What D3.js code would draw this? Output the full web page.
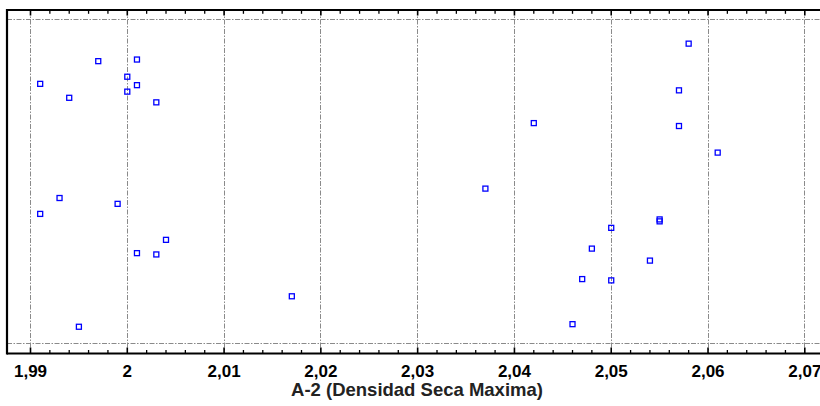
<!DOCTYPE html>
<html>
<head>
<meta charset="utf-8">
<script src="https://cdn.jsdelivr.net/npm/d3@7"></script>
<style>
  html, body { margin: 0; padding: 0; background: #fff; }
  svg { display: block; }
</style>
</head>
<body>
<svg id="chart" width="820" height="406"></svg>
<script>
// Densidad seca maxima (A-2) observations
const densidad = [
  1.997, 2.001, 1.991, 2.000, 2.001, 2.000, 1.994, 2.003,
  1.993, 1.991, 1.999, 2.004, 2.001, 2.003, 1.995, 2.017,
  2.037, 2.042, 2.058, 2.057, 2.057, 2.061, 2.055, 2.055,
  2.050, 2.048, 2.054, 2.047, 2.050, 2.046
];
// vertical jitter (0-100) for each observation
const jitter = [
  87.0, 87.5, 80.0, 82.2, 79.6, 77.6, 75.7, 74.3,
  44.8, 39.9, 43.0, 31.9, 27.8, 27.4, 5.1, 14.5,
  47.7, 67.9, 92.4, 78.0, 67.0, 58.8, 37.6, 38.2,
  35.6, 29.2, 25.5, 19.8, 19.4, 5.9
];
const majorTicks = [1.99, 2.00, 2.01, 2.02, 2.03, 2.04, 2.05, 2.06, 2.07];
const tickLabels = ["1,99", "2", "2,01", "2,02", "2,03", "2,04", "2,05", "2,06", "2,07"];

const svg = d3.select("#chart");
const frame = { left: 7, right: 830, top: 10, bottom: 353.5 };

const x = d3.scaleLinear().domain([1.99, 2.07]).range([30, 804.3]);
const y = d3.scaleLinear().domain([0, 100]).range([343.3, 19]);

const minorTicks = d3.range(0, 41).map(i => +(1.99 + i * 0.002).toFixed(3))
  .filter(v => !majorTicks.some(m => Math.abs(m - v) < 1e-9));

// grid
const grid = svg.append("g")
  .attr("stroke", "#8a8a8a")
  .attr("stroke-width", 1)
  .attr("stroke-dasharray", "5,1.5,1.5,1.5")
  .attr("fill", "none");
grid.selectAll("line.v").data(majorTicks).join("line")
  .attr("class", "v")
  .attr("x1", d => Math.round(x(d)) + 0.5).attr("x2", d => Math.round(x(d)) + 0.5)
  .attr("y1", frame.top).attr("y2", frame.bottom);
grid.selectAll("line.h").data([0, 100]).join("line")
  .attr("class", "h")
  .attr("x1", frame.left).attr("x2", frame.right)
  .attr("y1", d => Math.round(y(d)) + 0.5).attr("y2", d => Math.round(y(d)) + 0.5);

// bottom axis: inward ticks
const bottomMajor = d3.axisBottom(x).tickValues(majorTicks).tickSizeInner(-6).tickSizeOuter(0)
  .tickFormat((d, i) => tickLabels[i]);
const gb = svg.append("g").attr("transform", `translate(0,${frame.bottom})`).call(bottomMajor);
gb.select(".domain").remove();
gb.selectAll(".tick line").attr("stroke", "#000").attr("stroke-width", 1.6);
gb.selectAll(".tick text")
  .attr("y", 23)
  .attr("dy", 0)
  .attr("font-family", "Liberation Sans, Arial, sans-serif")
  .attr("font-weight", "bold")
  .attr("font-size", 17)
  .attr("fill", "#000");
const gbm = svg.append("g").attr("transform", `translate(0,${frame.bottom})`)
  .call(d3.axisBottom(x).tickValues(minorTicks).tickSizeInner(-3.5).tickSizeOuter(0).tickFormat(""));
gbm.select(".domain").remove();
gbm.selectAll(".tick line").attr("stroke", "#000").attr("stroke-width", 1.3);

// top axis: inward ticks, no labels
const gt = svg.append("g").attr("transform", `translate(0,${frame.top})`)
  .call(d3.axisTop(x).tickValues(majorTicks).tickSizeInner(-5.5).tickSizeOuter(0).tickFormat(""));
gt.select(".domain").remove();
gt.selectAll(".tick line").attr("stroke", "#000").attr("stroke-width", 1.6);
const gtm = svg.append("g").attr("transform", `translate(0,${frame.top})`)
  .call(d3.axisTop(x).tickValues(minorTicks).tickSizeInner(-3.8).tickSizeOuter(0).tickFormat(""));
gtm.select(".domain").remove();
gtm.selectAll(".tick line").attr("stroke", "#000").attr("stroke-width", 1.3);

// frame lines
svg.append("line").attr("x1", frame.left).attr("x2", frame.right)
  .attr("y1", frame.top).attr("y2", frame.top).attr("stroke", "#000").attr("stroke-width", 1.8);
svg.append("line").attr("x1", frame.left).attr("x2", frame.right)
  .attr("y1", frame.bottom).attr("y2", frame.bottom).attr("stroke", "#000").attr("stroke-width", 2.2);
svg.append("line").attr("x1", frame.left).attr("x2", frame.left)
  .attr("y1", frame.top - 0.9).attr("y2", frame.bottom + 1.1).attr("stroke", "#000").attr("stroke-width", 2.2);

// points
const pts = densidad.map((d, i) => ({ v: d, j: jitter[i] }));
svg.append("g").selectAll("rect").data(pts).join("rect")
  .attr("x", d => x(d.v) - 2.5 + 0.5)
  .attr("y", d => y(d.j) - 2.5)
  .attr("width", 5).attr("height", 5)
  .attr("fill", "none")
  .attr("stroke", "#0000ff")
  .attr("stroke-width", 1.3);

// axis title
svg.append("text")
  .attr("x", 417).attr("y", 396)
  .attr("text-anchor", "middle")
  .attr("font-family", "Liberation Sans, Arial, sans-serif")
  .attr("font-weight", "bold")
  .attr("font-size", 18.5)
  .attr("fill", "#222")
  .text("A-2 (Densidad Seca Maxima)");
</script>
</body>
</html>
